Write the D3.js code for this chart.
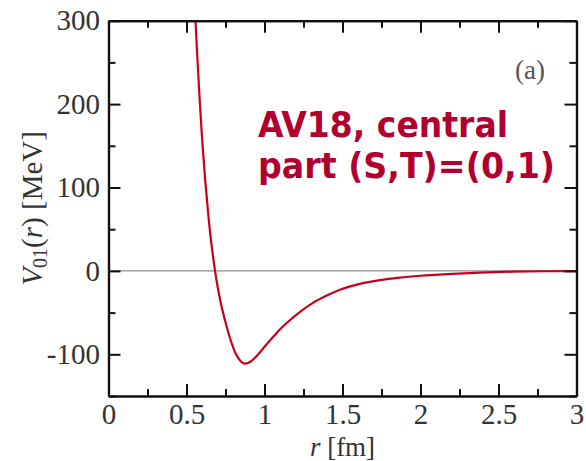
<!DOCTYPE html>
<html>
<head>
<meta charset="utf-8">
<script src="https://cdn.jsdelivr.net/npm/d3@7"></script>
<style>
  html, body { margin: 0; padding: 0; background: #fff; }
  svg { display: block; }
</style>
</head>
<body>
<svg id="chart" width="586" height="461"></svg>
<script>
// ---- data ----
const rValues = [0.5577, 0.5705, 0.5846, 0.6006, 0.6199, 0.6429, 0.6731, 0.6923, 0.716, 0.7468, 0.7788, 0.8109,
                 0.8333, 0.8538, 0.875, 0.91, 0.95, 1.0, 1.056, 1.10, 1.142, 1.228, 1.313, 1.399, 1.484, 1.55,
                 1.611, 1.739, 1.867, 2.0, 2.17, 2.38, 2.59, 2.8, 3.0];
const vValues = [300, 252.6, 204.7, 156.8, 108.9, 60.9, 12.8, -11.2, -35.2, -59.2, -80.5, -97.3,
                 -104.8, -109.3, -111.2, -109, -102, -91, -79, -70, -62.5, -49, -38, -29.5, -22.5, -18.5,
                 -15.5, -11, -8, -5.8, -3.8, -2.0, -0.9, -0.4, -0.2];
const xMajorTicks = [0, 0.5, 1, 1.5, 2, 2.5, 3];
const xTickLabels = ["0", "0.5", "1", "1.5", "2", "2.5", "3"];
const xMinorTicks = [0.25, 0.75, 1.25, 1.75, 2.25, 2.75];
const yMajorTicks = [-100, 0, 100, 200, 300];
const yTickLabels = ["-100", "0", "100", "200", "300"];
const yMinorTicks = [-150, -50, 50, 150, 250];
const xDomain = [0, 3];
const yDomain = [-150, 300];
const panelLabel = "(a)";
const noteLines = ["AV18, central", "part (S,T)=(0,1)"];

// ---- layout ----
(function () {
const svg = d3.select("#chart");
const pL = 108.5, pR = 576.5, pT = 20.7, pB = 396;
const x = d3.scaleLinear().domain(xDomain).range([pL, pR]);
const y = d3.scaleLinear().domain(yDomain).range([pB, pT]);
const serif = "'Liberation Serif', 'DejaVu Serif', serif";

svg.append("rect").attr("width", 586).attr("height", 461).attr("fill", "#fff");

svg.append("defs").append("clipPath").attr("id", "plotclip")
  .append("rect").attr("x", pL).attr("y", pT).attr("width", pR - pL).attr("height", pB - pT);

// zero line
svg.append("line")
  .attr("x1", x(xDomain[0])).attr("x2", x(xDomain[1]))
  .attr("y1", y(0)).attr("y2", y(0))
  .attr("stroke", "#8c8c8c").attr("stroke-width", 1.3);

// curve
const data = rValues.map((r, i) => ({ r, v: vValues[i] }));
svg.append("path")
  .datum(data)
  .attr("clip-path", "url(#plotclip)")
  .attr("fill", "none")
  .attr("stroke", "#c8001c")
  .attr("stroke-width", 2.2)
  .attr("stroke-linejoin", "round")
  .attr("d", d3.line().x(d => x(d.r)).y(d => y(d.v)).curve(d3.curveMonotoneX));

// axes
function styleAxis(g, labels) {
  g.select(".domain").attr("stroke", "#111").attr("stroke-width", 2.2);
  g.selectAll(".tick line").attr("stroke", "#111").attr("stroke-width", 2);
  if (labels) {
    g.selectAll(".tick text").attr("font-family", serif).attr("font-size", 29).attr("fill", "#333");
  } else {
    g.selectAll(".tick text").remove();
  }
}
const major = 12, minor = 7;

// bottom
svg.append("g").attr("transform", `translate(0,${pB})`)
  .call(d3.axisBottom(x).tickValues(xMajorTicks).tickSizeInner(-major).tickSizeOuter(0).tickPadding(7)
    .tickFormat((d, i) => xTickLabels[i]))
  .call(g => styleAxis(g, true));
svg.append("g").attr("transform", `translate(0,${pB})`)
  .call(d3.axisBottom(x).tickValues(xMinorTicks).tickSizeInner(-minor).tickSizeOuter(0))
  .call(g => styleAxis(g, false));
// top
svg.append("g").attr("transform", `translate(0,${pT})`)
  .call(d3.axisTop(x).tickValues(xMajorTicks).tickSizeInner(-major).tickSizeOuter(0))
  .call(g => styleAxis(g, false));
svg.append("g").attr("transform", `translate(0,${pT})`)
  .call(d3.axisTop(x).tickValues(xMinorTicks).tickSizeInner(-minor).tickSizeOuter(0))
  .call(g => styleAxis(g, false));
// left
svg.append("g").attr("transform", `translate(${pL},0)`)
  .call(d3.axisLeft(y).tickValues(yMajorTicks).tickSizeInner(-major).tickSizeOuter(0).tickPadding(8.5)
    .tickFormat((d, i) => yTickLabels[i]))
  .call(g => styleAxis(g, true));
svg.append("g").attr("transform", `translate(${pL},0)`)
  .call(d3.axisLeft(y).tickValues(yMinorTicks).tickSizeInner(-minor).tickSizeOuter(0))
  .call(g => styleAxis(g, false));
// right
svg.append("g").attr("transform", `translate(${pR},0)`)
  .call(d3.axisRight(y).tickValues(yMajorTicks).tickSizeInner(-major).tickSizeOuter(0))
  .call(g => styleAxis(g, false));
svg.append("g").attr("transform", `translate(${pR},0)`)
  .call(d3.axisRight(y).tickValues(yMinorTicks).tickSizeInner(-minor).tickSizeOuter(0))
  .call(g => styleAxis(g, false));

// x axis title
const xt = svg.append("text")
  .attr("x", (pL + pR) / 2).attr("y", 456)
  .attr("text-anchor", "middle")
  .attr("font-family", serif).attr("font-size", 27).attr("fill", "#333");
xt.append("tspan").attr("font-style", "italic").text("r");
xt.append("tspan").text(" [fm]");

// y axis title
const yt = svg.append("text")
  .attr("transform", `translate(42,${(pT + pB) / 2}) rotate(-90)`)
  .attr("text-anchor", "middle")
  .attr("font-family", serif).attr("font-size", 29).attr("fill", "#333");
yt.append("tspan").attr("font-style", "italic").text("V");
yt.append("tspan").attr("font-size", 20).attr("dy", 5).text("01");
yt.append("tspan").attr("dy", -5).text("(");
yt.append("tspan").attr("font-style", "italic").text("r");
yt.append("tspan").text(") [MeV]");

// panel label
svg.append("text")
  .attr("x", 545).attr("y", 79)
  .attr("text-anchor", "end")
  .attr("font-family", serif).attr("font-size", 27).attr("fill", "#555")
  .text(panelLabel);

// annotation
const noteFont = "'DejaVu Sans', 'Noto Sans', sans-serif";
const noteWidths = [250, 297];
noteLines.forEach((t, i) => {
  svg.append("text")
    .attr("x", 258).attr("y", 137 + i * 41)
    .attr("font-family", noteFont).attr("font-weight", "bold")
    .attr("font-size", 36).attr("fill", "#b1002e")
    .attr("textLength", noteWidths[i]).attr("lengthAdjust", "spacingAndGlyphs")
    .text(t);
});
})();
</script>
</body>
</html>
